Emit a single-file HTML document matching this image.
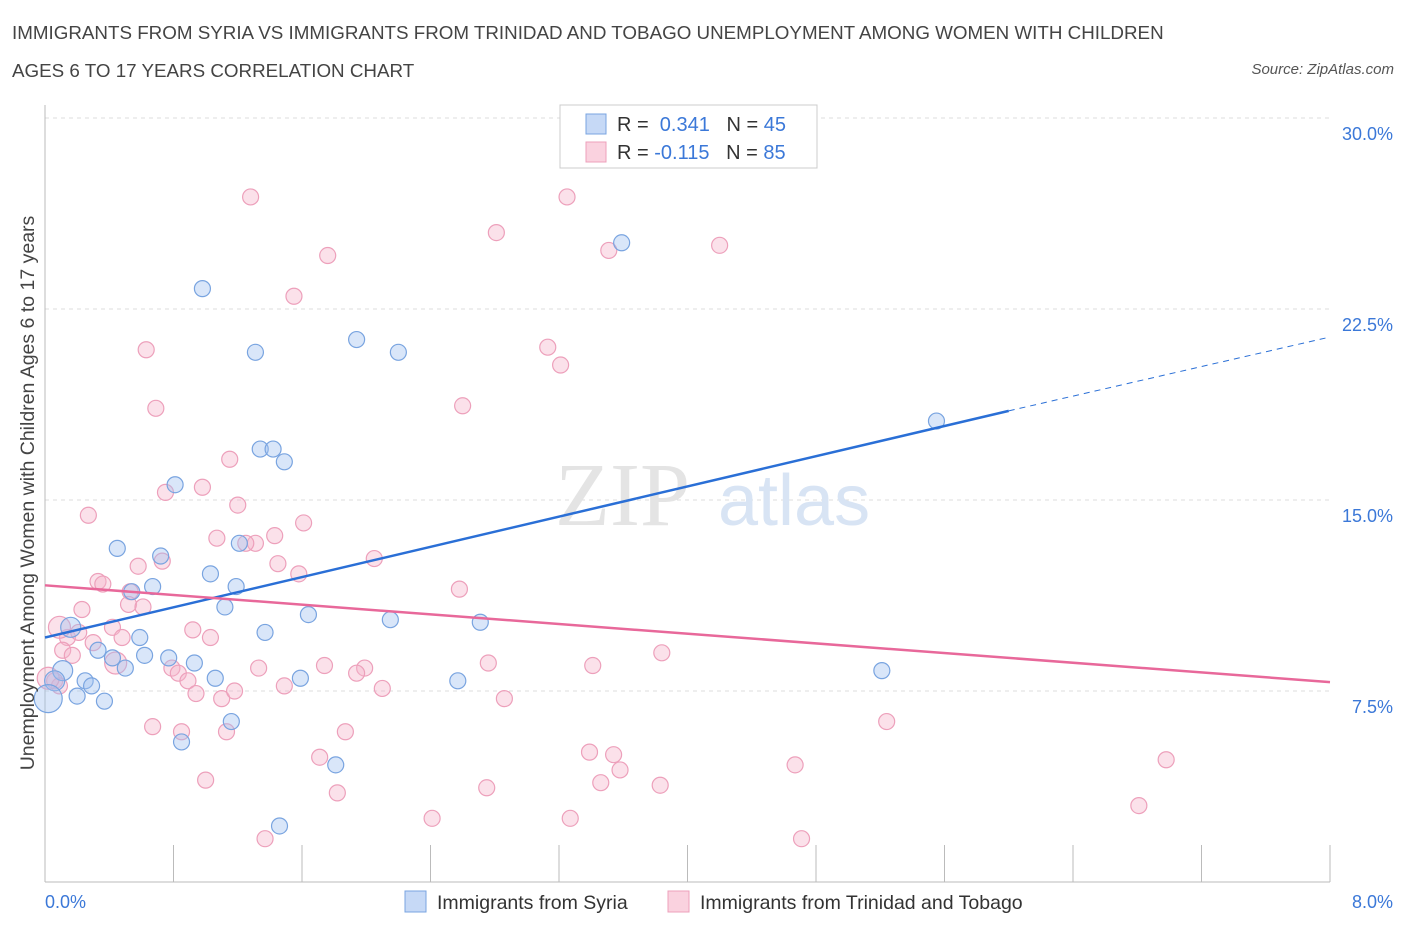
<!DOCTYPE html>
<html><head><meta charset="utf-8"><style>
body{margin:0;background:#fff;font-family:"Liberation Sans",sans-serif;}
#wrap{position:relative;width:1406px;height:930px;overflow:hidden}
.t{position:absolute;color:#444;font-size:18.8px}
</style></head><body><div id="wrap">
<div class="t" style="left:12px;top:14px;line-height:38px;">IMMIGRANTS FROM SYRIA VS IMMIGRANTS FROM TRINIDAD AND TOBAGO UNEMPLOYMENT AMONG WOMEN WITH CHILDREN<br>AGES 6 TO 17 YEARS CORRELATION CHART</div>
<div class="t" style="right:12px;top:61px;font-size:15px;font-style:italic;color:#555">Source: ZipAtlas.com</div>
<svg id="svg" width="1406" height="930" style="position:absolute;left:0;top:0"></svg>
</div>
<script>
const syriaX=[0.16,0.11,0.06,0.02,0.25,0.29,0.2,0.37,0.33,0.42,0.5,0.59,0.45,0.54,0.67,0.62,0.77,0.72,0.81,0.93,0.98,1.03,1.06,1.12,1.16,1.19,1.21,1.31,1.34,1.42,1.49,1.37,1.59,1.64,1.46,1.81,1.94,2.2,2.15,2.57,2.71,3.59,5.21,5.55,0.85];
const syriaY=[10.0,8.3,7.9,7.2,7.9,7.7,7.3,7.1,9.1,8.8,8.4,9.6,13.1,11.4,11.6,8.9,8.8,12.8,15.6,8.6,23.3,12.1,8.0,10.8,6.3,11.6,13.3,20.8,17.0,17.0,16.5,9.8,8.0,10.5,2.2,4.6,21.3,20.8,10.3,7.9,10.2,25.1,8.3,18.1,5.5];
const ttX=[1.28,3.25,2.81,1.76,3.51,4.2,1.55,0.63,3.13,3.21,0.69,2.6,1.15,0.98,0.75,1.2,0.27,1.61,1.07,1.31,1.25,1.43,2.05,0.73,0.58,1.45,1.58,0.33,0.36,2.58,0.53,0.52,0.61,0.23,0.14,0.21,0.3,0.42,0.48,0.92,1.03,0.11,0.17,0.06,0.09,0.79,0.83,0.89,1.33,1.74,1.99,1.94,2.76,3.41,3.84,0.94,1.1,1.18,1.49,2.1,2.86,0.67,0.85,1.13,1.87,3.39,3.54,1.71,3.58,1.0,3.46,2.75,3.83,1.82,2.41,3.27,4.67,5.24,6.98,6.81,4.71,1.37,0.09,0.44,0.02];
const ttY=[26.9,26.9,25.5,24.6,24.8,25.0,23.0,20.9,21.0,20.3,18.6,18.7,16.6,15.5,15.3,14.8,14.4,14.1,13.5,13.3,13.3,13.6,12.7,12.6,12.4,12.5,12.1,11.8,11.7,11.5,11.4,10.9,10.8,10.7,9.6,9.8,9.4,10.0,9.6,9.9,9.6,9.1,8.9,7.9,7.7,8.4,8.2,7.9,8.4,8.5,8.4,8.2,8.6,8.5,9.0,7.4,7.2,7.5,7.7,7.6,7.2,6.1,5.9,5.9,5.9,5.1,5.0,4.9,4.4,4.0,3.9,3.7,3.8,3.5,2.5,2.5,4.6,6.3,4.8,3.0,1.7,1.7,10.0,8.6,8.0];
const yTicks=[7.5,15,22.5,30];
const NS="http://www.w3.org/2000/svg",svg=document.getElementById('svg');
const X=v=>45+v/8*1285, Y=v=>882-v/30*764;
function mk(tag,a,txt){const e=document.createElementNS(NS,tag);for(const k in a)e.setAttribute(k,a[k]);if(txt!=null)e.textContent=txt;svg.appendChild(e);return e;}
yTicks.forEach(t=>{let g=mk('line',{x1:45,x2:1330,y1:Y(t),y2:Y(t),stroke:'#ddd','stroke-dasharray':'4,4'});

let l=mk('text',{x:1393,y:Y(t)+22,'text-anchor':'end',fill:'#3b78d8','font-size':18,'font-family':'Liberation Sans'},t.toFixed(1)+'%');
});
let ax=mk('line',{x1:45,x2:1330,y1:882,y2:882,stroke:'#bbb'});
let ay=mk('line',{x1:45,x2:45,y1:105,y2:882,stroke:'#bbb'});
for(let i=0;i<=10;i++){let tk=mk('line',{x1:X(i*0.8),x2:X(i*0.8),y1:845,y2:882,stroke:'#bbb'});}
let wm=mk('text',{x:555,y:525,fill:'#e4e4e4','font-size':90,'font-family':'Liberation Serif'},'ZIP');
let wm2=mk('text',{x:718,y:525,fill:'#d8e4f4','font-size':72,'font-family':'Liberation Sans'},'atlas');
ttX.forEach((x,i)=>{let c=mk('circle',{cx:X(x),cy:Y(ttY[i]),r:i>=82?11:8,fill:'rgba(246,180,202,0.4)',stroke:'#eda0bb','stroke-width':1.2});
});
syriaX.forEach((x,i)=>{let c=mk('circle',{cx:X(x),cy:Y(syriaY[i]),r:i<4?(i==3?14:10):8,fill:'rgba(160,192,240,0.4)',stroke:'#79a4e0','stroke-width':1.2});
});
let b1=mk('line',{x1:X(0),y1:Y(9.6),x2:X(6.0),y2:Y(18.5),stroke:'#2a6fd6','stroke-width':2.5});
let b2=mk('line',{x1:X(6.0),y1:Y(18.5),x2:X(8),y2:Y(21.4),stroke:'#2a6fd6','stroke-width':1,'stroke-dasharray':'6,5'});
let p1=mk('line',{x1:X(0),y1:Y(11.65),x2:X(8),y2:Y(7.85),stroke:'#e8689a','stroke-width':2.5});
let xl=mk('text',{x:45,y:908,fill:'#3b78d8','font-size':18,'font-family':'Liberation Sans'},'0.0%');
let xr=mk('text',{x:1393,y:908,'text-anchor':'end',fill:'#3b78d8','font-size':18,'font-family':'Liberation Sans'},'8.0%');
let yt=mk('text',{x:34,y:493,transform:'rotate(-90 34 493)','text-anchor':'middle',fill:'#444','font-size':19.5,'font-family':'Liberation Sans'},'Unemployment Among Women with Children Ages 6 to 17 years');
let lb=mk('rect',{x:560,y:105,width:257,height:63,fill:'#fff',stroke:'#ccc'});
[[0,'rgba(160,192,240,0.6)','#79a4e0',' 0.341','45'],[1,'rgba(246,180,202,0.6)','#eda0bb','-0.115','85']].forEach(r=>{
 let y=114+r[0]*28;
 let s=mk('rect',{x:586,y:y,width:20,height:20,fill:r[1],stroke:r[2]});
 let t=mk('text',{x:617,y:y+17,'font-size':20,'font-family':'Liberation Sans',fill:'#333'});
 t.innerHTML='R = <tspan fill="#3b78d8">'+r[3]+'</tspan>   N = <tspan fill="#3b78d8">'+r[4]+'</tspan>';
 t.setAttribute('xml:space','preserve');t.style.whiteSpace='pre';});
[[405,'rgba(160,192,240,0.6)','#79a4e0','Immigrants from Syria','legend-syria'],[668,'rgba(246,180,202,0.6)','#eda0bb','Immigrants from Trinidad and Tobago','legend-trinidad']].forEach(r=>{
 let s=mk('rect',{x:r[0],y:891,width:21,height:21,fill:r[1],stroke:r[2]});
 let t=mk('text',{x:r[0]+32,y:909,'font-size':19.5,'font-family':'Liberation Sans',fill:'#333'},r[3]);});
</script></body></html>
